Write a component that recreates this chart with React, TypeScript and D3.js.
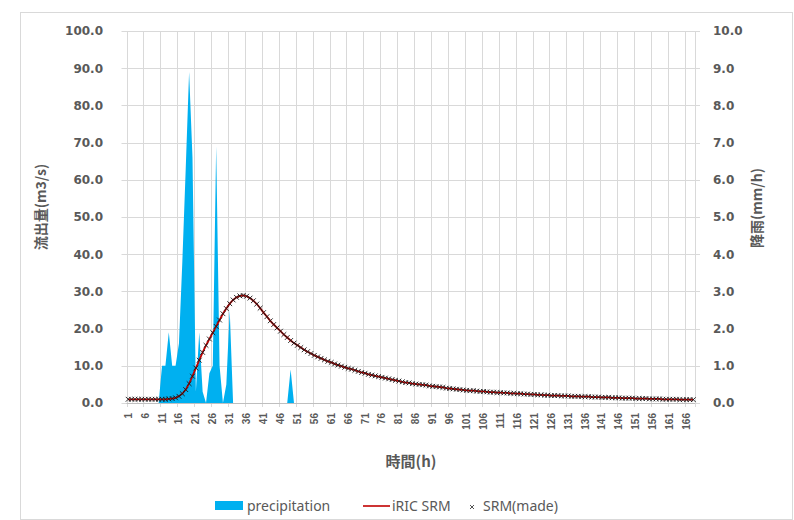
import { useRef, useEffect } from "react";
import * as d3 from "d3";

// hours 1..168 on the category axis
const hours = d3.range(1, 169);

// precipitation (mm/h), right axis
const precipitation = [
  0, 0, 0, 0, 0, 0, 0, 0, 0, 0,
  1.0, 1.0, 1.9, 1.0, 1.0, 1.6, 3.8, 6.3, 8.9, 6.6,
  0.3, 1.9, 0.3, 0, 0.8, 1.0, 6.9, 1.0, 0, 0.5,
  2.5, 0, 0, 0, 0, 0, 0, 0, 0, 0,
  0, 0, 0, 0, 0, 0, 0, 0, 0.9, 0,
  0, 0, 0, 0, 0, 0, 0, 0, 0, 0,
  0, 0, 0, 0, 0, 0, 0, 0, 0, 0,
  0, 0, 0, 0, 0, 0, 0, 0, 0, 0,
  0, 0, 0, 0, 0, 0, 0, 0, 0, 0,
  0, 0, 0, 0, 0, 0, 0, 0, 0, 0,
  0, 0, 0, 0, 0, 0, 0, 0, 0, 0,
  0, 0, 0, 0, 0, 0, 0, 0, 0, 0,
  0, 0, 0, 0, 0, 0, 0, 0, 0, 0,
  0, 0, 0, 0, 0, 0, 0, 0, 0, 0,
  0, 0, 0, 0, 0, 0, 0, 0, 0, 0,
  0, 0, 0, 0, 0, 0, 0, 0, 0, 0,
  0, 0, 0, 0, 0, 0, 0, 0,
];

// runoff (m3/s), left axis
const iricSrm = [
  1.0, 1.0, 1.0, 1.0, 1.0, 1.0, 1.0, 1.0, 1.0, 1.0,
  1.0, 1.0, 1.1, 1.2, 1.4, 1.8, 2.5, 3.6, 5.2, 7.2,
  9.4, 11.5, 13.6, 15.5, 17.2, 18.9, 20.6, 22.3, 24.0, 25.4,
  26.7, 27.7, 28.4, 28.8, 28.9, 28.7, 28.2, 27.5, 26.6, 25.5,
  24.3, 23.2, 22.1, 21.1, 20.2, 19.3, 18.4, 17.6, 16.8, 16.1,
  15.5, 14.9, 14.3, 13.8, 13.3, 12.8, 12.4, 12.0, 11.6, 11.2,
  10.9, 10.5, 10.2, 9.9, 9.6, 9.3, 9.1, 8.8, 8.5, 8.2,
  8.0, 7.7, 7.5, 7.3, 7.1, 6.9, 6.7, 6.5, 6.3, 6.1,
  5.9, 5.7, 5.5, 5.4, 5.2, 5.1, 5.0, 4.9, 4.8, 4.6,
  4.5, 4.4, 4.3, 4.2, 4.0, 3.9, 3.8, 3.7, 3.6, 3.5,
  3.4, 3.3, 3.3, 3.2, 3.1, 3.1, 3.0, 2.9, 2.9, 2.8,
  2.8, 2.7, 2.7, 2.6, 2.6, 2.5, 2.5, 2.4, 2.4, 2.3,
  2.3, 2.2, 2.2, 2.1, 2.1, 2.0, 2.0, 2.0, 1.9, 1.9,
  1.9, 1.8, 1.8, 1.8, 1.7, 1.7, 1.7, 1.6, 1.6, 1.6,
  1.5, 1.5, 1.5, 1.4, 1.4, 1.4, 1.3, 1.3, 1.3, 1.3,
  1.2, 1.2, 1.2, 1.2, 1.1, 1.1, 1.1, 1.1, 1.0, 1.0,
  1.0, 1.0, 1.0, 0.9, 0.9, 0.9, 0.9, 0.9,
];

// the hand-made SRM sits right on top of the iRIC curve
const srmMade = iricSrm;

const leftTicks = [0, 10, 20, 30, 40, 50, 60, 70, 80, 90, 100];
const rightTicks = [0, 1, 2, 3, 4, 5, 6, 7, 8, 9, 10];

const GRAY = "#595959";
const GRID = "#d9d9d9";
const BLUE = "#00b0f0";
const RED = "#c00000";
const FONT = "'DejaVu Sans', sans-serif";
const CJK = "'Noto Sans CJK JP', sans-serif";

export default function App() {
  const svgRef = useRef<SVGSVGElement>(null);

  useEffect(() => {
    if (!svgRef.current) return;
    const svg = d3.select(svgRef.current);
    svg.selectAll("*").remove();

    const left = 126.5, right = 695, top = 31, bottom = 403;

    const x = d3.scaleBand<number>().domain(hours).range([left, right]);
    const cx = (h: number) => x(h)! + x.bandwidth() / 2;
    const yL = d3.scaleLinear().domain([0, 100]).range([bottom, top]);
    const yR = d3.scaleLinear().domain([0, 10]).range([bottom, top]);

    svg.append("rect").attr("x", 20.5).attr("y", 12.5).attr("width", 772).attr("height", 507)
      .attr("fill", "#fff").attr("stroke", GRID);

    // gridlines
    const grid = svg.append("g").attr("stroke", GRID).attr("stroke-width", 1);
    leftTicks.forEach((t) => {
      grid.append("line").attr("x1", left - 5).attr("x2", right + 5)
        .attr("y1", Math.round(yL(t)) + 0.5).attr("y2", Math.round(yL(t)) + 0.5);
    });
    hours.filter((h) => (h - 1) % 5 === 0).forEach((h) => {
      const gx = Math.round(x(h)!) + 0.5;
      grid.append("line").attr("x1", gx).attr("x2", gx).attr("y1", top).attr("y2", bottom + 4);
    });
    grid.append("line").attr("x1", right + 0.5).attr("x2", right + 0.5).attr("y1", top).attr("y2", bottom + 4);

    // precipitation area
    const area = d3.area<number>()
      .x((_, i) => cx(hours[i]))
      .y0(yR(0))
      .y1((d) => yR(d));
    svg.append("path").datum(precipitation).attr("d", area).attr("fill", BLUE);

    // iRIC SRM line
    const line = d3.line<number>()
      .x((_, i) => cx(hours[i]))
      .y((d) => yL(d));
    svg.append("path").datum(iricSrm).attr("d", line)
      .attr("fill", "none").attr("stroke", RED).attr("stroke-width", 1.8);

    // SRM(made) markers
    const cross = "M-2.4,-2.4L2.4,2.4M-2.4,2.4L2.4,-2.4";
    svg.append("g").selectAll("path").data(srmMade).enter().append("path")
      .attr("d", cross)
      .attr("transform", (d, i) => `translate(${cx(hours[i])},${yL(d)})`)
      .attr("stroke", "#1a1a1a").attr("stroke-width", 0.9).attr("fill", "none");

    // bottom axis line
    svg.append("line").attr("x1", left).attr("x2", right).attr("y1", bottom + 0.5).attr("y2", bottom + 0.5)
      .attr("stroke", "#bfbfbf");

    // left axis labels
    const fmt = d3.format(".1f");
    svg.append("g").selectAll("text").data(leftTicks).enter().append("text")
      .attr("x", 103).attr("y", (d) => yL(d)).attr("dy", "0.36em")
      .attr("text-anchor", "end").attr("font-family", FONT).attr("font-weight", "bold")
      .attr("font-size", 12).attr("fill", GRAY).text((d) => fmt(d));

    // right axis labels
    svg.append("g").selectAll("text").data(rightTicks).enter().append("text")
      .attr("x", 713).attr("y", (d) => yR(d)).attr("dy", "0.36em")
      .attr("text-anchor", "start").attr("font-family", FONT).attr("font-weight", "bold")
      .attr("font-size", 12).attr("fill", GRAY).text((d) => fmt(d));

    // category labels, every 5th hour, rotated
    svg.append("g").selectAll("text").data(hours.filter((h) => (h - 1) % 5 === 0)).enter().append("text")
      .attr("transform", (h) => `translate(${cx(h) + 3.5},${413}) rotate(-90)`)
      .attr("text-anchor", "end").attr("font-family", "'Liberation Sans', sans-serif")
      .attr("font-weight", "bold").attr("font-size", 10).attr("fill", GRAY).text((h) => String(h));

    // axis titles
    svg.append("text").attr("transform", `translate(46,207) rotate(-90)`)
      .attr("text-anchor", "middle").attr("font-family", CJK).attr("font-weight", "bold")
      .attr("font-size", 14).attr("fill", GRAY).text("流出量(m3/s)");
    svg.append("text").attr("transform", `translate(762,208) rotate(-90)`)
      .attr("text-anchor", "middle").attr("font-family", CJK).attr("font-weight", "bold")
      .attr("font-size", 14).attr("fill", GRAY).text("降雨(mm/h)");
    svg.append("text").attr("x", 411).attr("y", 467)
      .attr("text-anchor", "middle").attr("font-family", CJK).attr("font-weight", "bold")
      .attr("font-size", 15).attr("fill", GRAY).text("時間(h)");

    // legend
    const lg = svg.append("g").attr("font-family", "'Noto Sans', sans-serif").attr("font-size", 14).attr("fill", GRAY);
    const ly = 506;
    lg.append("rect").attr("x", 215).attr("y", ly - 5).attr("width", 28).attr("height", 9).attr("fill", BLUE);
    lg.append("text").attr("x", 247).attr("y", ly).attr("dy", "0.35em").text("precipitation");
    lg.append("line").attr("x1", 363).attr("x2", 390).attr("y1", ly).attr("y2", ly)
      .attr("stroke", RED).attr("stroke-width", 1.6);
    lg.append("text").attr("x", 392).attr("y", ly).attr("dy", "0.35em").text("iRIC SRM");
    lg.append("path").attr("d", "M-2,-2L2,2M-2,2L2,-2").attr("transform", `translate(472,${ly + 1})`)
      .attr("stroke", "#404040").attr("stroke-width", 0.9).attr("fill", "none");
    lg.append("text").attr("x", 483).attr("y", ly).attr("dy", "0.35em").text("SRM(made)");
  }, []);

  return (
    <svg
      ref={svgRef}
      width={794}
      height={520}
      style={{ position: "absolute", left: 0, top: 0, background: "#fff" }}
    />
  );
}
